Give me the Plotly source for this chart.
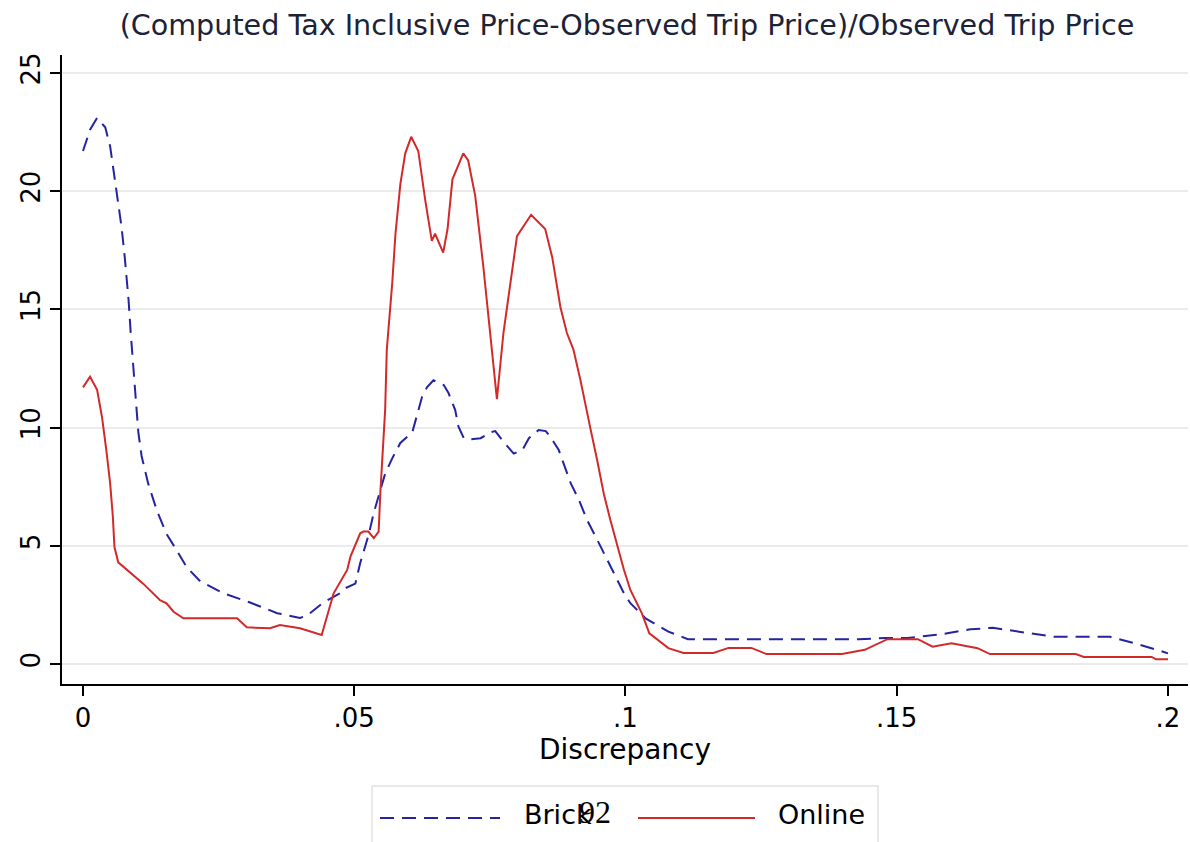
import plotly.graph_objects as go

# Kernel density of discrepancy, Brick stores
brick_x = [0.0000, 0.0013, 0.0026, 0.0041, 0.0050, 0.0056, 0.0063, 0.0071, 0.0077, 0.0084,
           0.0088, 0.0093, 0.0098, 0.0102, 0.0108, 0.0120, 0.0136, 0.0154, 0.0173, 0.0191,
           0.0216, 0.0258, 0.0308, 0.0358, 0.0400, 0.0413, 0.0443, 0.0474, 0.0483, 0.0502,
           0.0511, 0.0517, 0.0527, 0.0536, 0.0548, 0.0557, 0.0570, 0.0585, 0.0607, 0.0616,
           0.0625, 0.0634, 0.0646, 0.0665, 0.0674, 0.0686, 0.0692, 0.0702, 0.0714, 0.0733,
           0.0751, 0.0760, 0.0775, 0.0794, 0.0810, 0.0822, 0.0840, 0.0853, 0.0862, 0.0877,
           0.0886, 0.0899, 0.0914, 0.0929, 0.0948, 0.0960, 0.0978, 0.0997, 0.1009, 0.1037,
           0.1079, 0.1115, 0.1200, 0.1250, 0.1350, 0.1430, 0.1480, 0.1520, 0.1581, 0.1636,
           0.1677, 0.1727, 0.1790, 0.1893, 0.1935, 0.1991, 0.2000]
brick_y = [21.7, 22.6, 23.1, 22.7, 21.9, 20.9, 19.9, 18.5, 17.2, 15.4,
           14.0, 12.6, 11.2, 9.8, 8.8, 7.65, 6.5, 5.5, 4.8, 4.1,
           3.5, 3.0, 2.6, 2.15, 1.95, 2.05, 2.6, 3.0, 3.2, 3.4,
           4.27, 4.7, 5.5, 6.4, 7.35, 8.05, 8.7, 9.35, 9.8, 10.6,
           11.3, 11.7, 12.0, 11.8, 11.45, 10.75, 10.05, 9.55, 9.5, 9.55,
           9.8, 9.85, 9.4, 8.9, 9.05, 9.55, 9.9, 9.85, 9.6, 9.05,
           8.5, 7.65, 6.95, 6.1, 5.25, 4.7, 3.85, 3.0, 2.57, 1.93,
           1.37, 1.05, 1.05, 1.05, 1.05, 1.05, 1.1, 1.1, 1.25, 1.47,
           1.53, 1.36, 1.15, 1.15, 0.9, 0.52, 0.45]

# Kernel density of discrepancy, Online stores
online_x = [0.0000, 0.0013, 0.0026, 0.0035, 0.0043, 0.0050, 0.0055, 0.0058, 0.0065, 0.0081,
            0.0111, 0.0142, 0.0154, 0.0167, 0.0185, 0.0284, 0.0302, 0.0345, 0.0363, 0.0400,
            0.0419, 0.0440, 0.0462, 0.0487, 0.0493, 0.0511, 0.0517, 0.0526, 0.0536, 0.0545,
            0.0548, 0.0551, 0.0557, 0.0560, 0.0570, 0.0576, 0.0585, 0.0594, 0.0605, 0.0618,
            0.0631, 0.0643, 0.0649, 0.0664, 0.0672, 0.0681, 0.0701, 0.0710, 0.0723, 0.0738,
            0.0751, 0.0763, 0.0775, 0.0788, 0.0800, 0.0826, 0.0852, 0.0865, 0.0880, 0.0892,
            0.0904, 0.0917, 0.0929, 0.0935, 0.0948, 0.0960, 0.0972, 0.0985, 0.0997, 0.1009,
            0.1030, 0.1044, 0.1079, 0.1107, 0.1162, 0.1190, 0.1232, 0.1260, 0.1399, 0.1441,
            0.1483, 0.1539, 0.1566, 0.1601, 0.1649, 0.1672, 0.1830, 0.1845, 0.1970, 0.1978,
            0.2000]
online_y = [11.7, 12.15, 11.6, 10.45, 9.05, 7.65, 6.25, 4.95, 4.3, 4.0,
            3.4, 2.7, 2.57, 2.21, 1.93, 1.93, 1.55, 1.51, 1.65, 1.51,
            1.37, 1.23, 2.99, 3.98, 4.54, 5.53, 5.6, 5.6, 5.32, 5.6,
            7.2, 8.6, 10.75, 13.3, 16.1, 18.2, 20.3, 21.6, 22.3, 21.7,
            19.6, 17.9, 18.2, 17.4, 18.4, 20.5, 21.6, 21.3, 19.8, 16.8,
            14.0, 11.2, 14.0, 16.1, 18.1, 19.0, 18.4, 17.2, 15.1, 14.0,
            13.3, 12.0, 10.6, 10.0, 8.6, 7.2, 6.1, 4.95, 4.0, 3.13,
            2.15, 1.3, 0.67, 0.47, 0.47, 0.68, 0.68, 0.42, 0.42, 0.6,
            1.05, 1.05, 0.73, 0.88, 0.67, 0.42, 0.42, 0.3, 0.3, 0.2,
            0.2]

series_names = ["Brick", "Online"]
x_ticks = [0, 0.05, 0.1, 0.15, 0.2]
x_tick_labels = ["0", ".05", ".1", ".15", ".2"]
y_ticks = [0, 5, 10, 15, 20, 25]
y_tick_labels = ["0", "5", "10", "15", "20", "25"]

title_text = "(Computed Tax Inclusive Price-Observed Trip Price)/Observed Trip Price"
x_title = "Discrepancy"
page_number = "92"

FONT = "DejaVu Sans"
BLUE = "#2424a0"
RED = "#d22a2a"
BLUE_DASH = "14px,8px"

W, H = 1190, 842
ML, MR, MT, MB = 62, 2, 55, 158
PW, PH = W - ML - MR, H - MT - MB


def px(xp):
    return (xp - ML) / PW


def py(yp):
    return (H - MB - yp) / PH


fig = go.Figure()
fig.add_trace(go.Scatter(
    x=brick_x, y=brick_y, mode="lines", name=series_names[0], showlegend=False,
    line=dict(color=BLUE, width=2, dash=BLUE_DASH),
))
fig.add_trace(go.Scatter(
    x=online_x, y=online_y, mode="lines", name=series_names[1], showlegend=False,
    line=dict(color=RED, width=2),
))

# Legend (drawn as a Stata-style key box under the axis title)
legend_shapes = [
    dict(type="rect", xref="paper", yref="paper", x0=px(372), x1=px(878),
         y0=py(786), y1=py(860), line=dict(color="#e2e2e2", width=1.5),
         fillcolor="rgba(0,0,0,0)"),
    dict(type="line", xref="paper", yref="paper", x0=px(380), x1=px(500),
         y0=py(818), y1=py(818), line=dict(color=BLUE, width=2, dash=BLUE_DASH)),
    dict(type="line", xref="paper", yref="paper", x0=px(638), x1=px(755),
         y0=py(818), y1=py(818), line=dict(color=RED, width=2)),
]
legend_texts = [
    dict(text=series_names[0], x=px(522), y=py(815), xref="paper", yref="paper",
         xanchor="left", yanchor="middle", showarrow=False,
         font=dict(family=FONT, size=27, color="black")),
    dict(text=series_names[1], x=px(776), y=py(815), xref="paper", yref="paper",
         xanchor="left", yanchor="middle", showarrow=False,
         font=dict(family=FONT, size=27, color="black")),
    dict(text=page_number, x=px(595), y=py(812), xref="paper", yref="paper",
         xanchor="center", yanchor="middle", showarrow=False,
         font=dict(family="Liberation Serif", size=32, color="black")),
]

fig.update_layout(
    width=W, height=H,
    margin=dict(l=ML, r=MR, t=MT, b=MB, autoexpand=False),
    paper_bgcolor="white", plot_bgcolor="white",
    font=dict(family=FONT, size=26, color="black"),
    title=dict(text=title_text, x=px(627), xref="paper", xanchor="center",
               y=1 - 25 / H, yref="container", yanchor="middle",
               font=dict(family=FONT, size=28.6, color="#1c2238")),
    showlegend=False,
    xaxis=dict(range=[-0.00387, 0.20369], tickvals=x_ticks, ticktext=x_tick_labels,
               showgrid=False, zeroline=False, showline=True, linecolor="black",
               linewidth=2, ticks="outside", ticklen=10, tickwidth=2, tickcolor="black",
               automargin=False,
               tickfont=dict(family=FONT, size=26, color="black"),
               title=dict(text=x_title, standoff=4,
                          font=dict(family=FONT, size=28, color="black"))),
    yaxis=dict(range=[-0.846, 25.76], tickvals=y_ticks, ticktext=y_tick_labels,
               showgrid=True, gridcolor="#ebebeb", gridwidth=2, zeroline=False,
               showline=True, linecolor="black", linewidth=2, ticks="outside",
               ticklen=10, tickwidth=2, tickcolor="black", tickangle=-90,
               automargin=False,
               tickfont=dict(family=FONT, size=26, color="black")),
    shapes=legend_shapes,
    annotations=legend_texts,
)

# place the fixed-size figure flush with the page corner, no toolbar
fig.write_html("out.html",
               config={"displayModeBar": False},
               post_script="document.body.style.margin='0';document.body.style.overflow='hidden';")
